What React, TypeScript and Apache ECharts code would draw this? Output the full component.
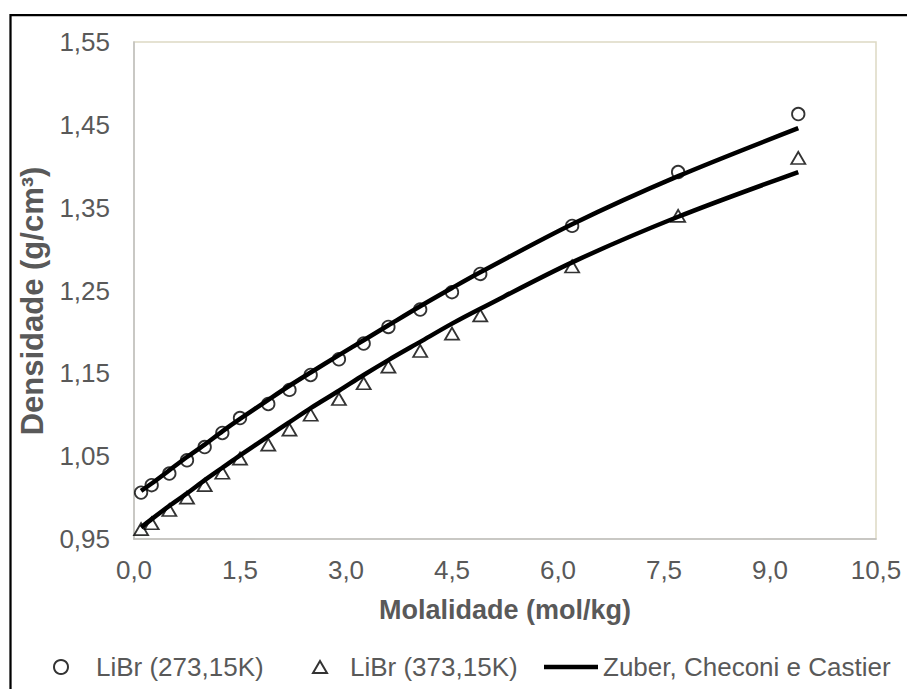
import React, { useEffect, useRef } from "react";
import * as echarts from "echarts";

// Molality (mol/kg) of each measured / modelled point
const molality = [0.1, 0.25, 0.5, 0.75, 1.0, 1.25, 1.5, 1.9, 2.2, 2.5, 2.9, 3.25, 3.6, 4.05, 4.5, 4.9, 6.2, 7.7, 9.4];

// Experimental densities (g/cm³)
const density273 = [1.006, 1.015, 1.029, 1.045, 1.061, 1.078, 1.096, 1.113, 1.130, 1.148, 1.167, 1.186, 1.206, 1.227, 1.248, 1.270, 1.328, 1.393, 1.463];
const density373 = [0.962, 0.969, 0.985, 1.000, 1.015, 1.030, 1.047, 1.064, 1.082, 1.100, 1.119, 1.138, 1.158, 1.177, 1.198, 1.220, 1.279, 1.340, 1.410];

// Zuber, Checoni e Castier model predictions (g/cm³)
const model273 = [1.008, 1.017, 1.033, 1.049, 1.064, 1.080, 1.095, 1.118, 1.135, 1.151, 1.172, 1.190, 1.208, 1.231, 1.253, 1.272, 1.330, 1.388, 1.446];
const model373 = [0.964, 0.974, 0.990, 1.005, 1.021, 1.036, 1.051, 1.074, 1.091, 1.108, 1.129, 1.148, 1.166, 1.188, 1.210, 1.228, 1.284, 1.339, 1.393];

// Axis tick labels
const yTicks = [0.95, 1.05, 1.15, 1.25, 1.35, 1.45, 1.55];
const xMin = 0;
const xMax = 10.5;
const xStep = 1.5;

const seriesNames = ["LiBr (273,15K)", "LiBr (373,15K)", "Zuber, Checoni e Castier"];

const FONT = "'Liberation Sans', Arial, sans-serif";
const TEXT_COLOR = "#595959";

const pairs = (xs: number[], ys: number[]) => xs.map((x, i) => [x, ys[i]]);

export default function App() {
  const ref = useRef<HTMLDivElement>(null);

  useEffect(() => {
    if (!ref.current) return;
    const chart = echarts.init(ref.current, null, { renderer: "svg" });

    const legendText = { fontFamily: FONT, fontSize: 26, color: TEXT_COLOR };
    const markerStyle = { color: "rgba(255,255,255,0)", borderColor: "#000000", borderWidth: 1.8 };

    chart.setOption({
      animation: false,
      backgroundColor: "#ffffff",
      grid: {
        left: 134,
        top: 42,
        width: 742,
        height: 497,
        show: true,
        borderColor: "#ddd9c3",
        borderWidth: 1.5,
        backgroundColor: "transparent",
      },
      xAxis: {
        type: "value",
        min: xMin,
        max: xMax,
        interval: xStep,
        axisLine: { show: true, lineStyle: { color: "#bfbfbf", width: 1.5 } },
        axisTick: { show: false },
        splitLine: { show: false },
        axisLabel: {
          margin: 18,
          fontFamily: FONT,
          fontSize: 26,
          color: TEXT_COLOR,
          formatter: (v: number) => v.toFixed(1).replace(".", ","),
        },
        name: "Molalidade (mol/kg)",
        nameLocation: "middle",
        nameGap: 57,
        nameTextStyle: { fontFamily: FONT, fontSize: 27, fontWeight: "bold", color: TEXT_COLOR },
      },
      yAxis: {
        type: "value",
        min: yTicks[0],
        max: yTicks[yTicks.length - 1],
        axisLine: { show: true, lineStyle: { color: "#bfbfbf", width: 1.5 } },
        axisTick: { show: false, customValues: yTicks },
        splitLine: { show: false },
        axisLabel: {
          customValues: yTicks,
          margin: 24,
          fontFamily: FONT,
          fontSize: 26,
          color: TEXT_COLOR,
          formatter: (v: number) => v.toFixed(2).replace(".", ","),
        },
      },
      legend: [
        {
          data: [seriesNames[0]],
          left: 53,
          top: 654,
          padding: 0,
          itemWidth: 60,
          itemHeight: 14,
          textStyle: legendText,
        },
        {
          data: [seriesNames[1]],
          left: 312,
          top: 654,
          padding: 0,
          itemWidth: 50,
          itemHeight: 12,
          icon: "path://M7,0 L14,12 L0,12 Z",
          symbolKeepAspect: true,
          textStyle: legendText,
        },
        {
          data: [seriesNames[2]],
          left: 544,
          top: 654,
          padding: 0,
          itemWidth: 54,
          itemHeight: 4.5,
          icon: "rect",
          itemStyle: { color: "#000000", borderWidth: 0 },
          textStyle: legendText,
        },
      ],
      graphic: [
        {
          type: "rect",
          shape: { x: 10.5, y: 15, width: 1000, height: 1000 },
          style: { fill: "none", stroke: "#000000", lineWidth: 2.25 },
          silent: true,
        },
        {
          type: "text",
          x: 32,
          y: 301,
          rotation: Math.PI / 2,
          style: {
            text: "Densidade (g/cm³)",
            font: `bold 31px ${FONT}`,
            fill: TEXT_COLOR,
            align: "center",
            verticalAlign: "middle",
          },
          silent: true,
        },
      ],
      series: [
        {
          name: seriesNames[2],
          type: "line",
          data: pairs(molality, model273),
          symbol: "none",
          smooth: 0.3,
          lineStyle: { color: "#000000", width: 4.5 },
          itemStyle: { color: "#000000" },
          z: 2,
        },
        {
          name: seriesNames[2],
          type: "line",
          data: pairs(molality, model373),
          symbol: "none",
          smooth: 0.3,
          lineStyle: { color: "#000000", width: 4.5 },
          itemStyle: { color: "#000000" },
          z: 2,
        },
        {
          name: seriesNames[0],
          type: "scatter",
          data: pairs(molality, density273),
          symbol: "circle",
          symbolSize: 12.5,
          itemStyle: markerStyle,
          z: 3,
        },
        {
          name: seriesNames[1],
          type: "scatter",
          data: pairs(molality, density373),
          symbol: "triangle",
          symbolSize: [14, 12],
          itemStyle: markerStyle,
          z: 3,
        },
      ],
    });

    return () => chart.dispose();
  }, []);

  return (
    <div
      ref={ref}
      style={{ position: "fixed", left: 0, top: 0, width: 907, height: 689, background: "#ffffff" }}
    />
  );
}
